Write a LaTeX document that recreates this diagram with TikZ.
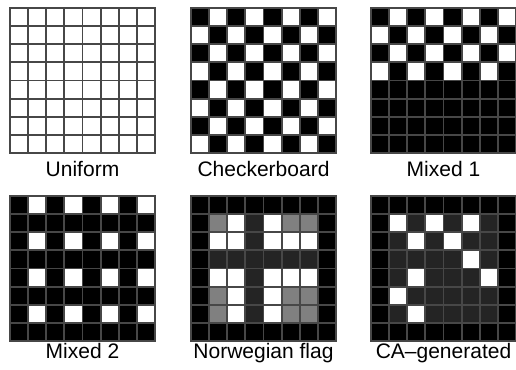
\documentclass[tikz,border=0pt]{standalone}
\usepackage{fontspec}
\setmainfont{Liberation Sans}

% one 8x8 panel: #1,#2 = top left corner, #3 = rows of cell codes
% 0 black, 1 white, 2 grey, 3 dark
\newcommand{\cellpanel}[3]{%
  \foreach \rowd [count=\rowi from 0] in {#3} {
    \foreach \cc [count=\colj from 0] in \rowd {
      \filldraw[cellbox, fill=cell\cc] (#1+\colj*18.125, #2+\rowi*18.125) rectangle ++(18.125, 18.125);
    }
  }
}

\begin{document}
\begin{tikzpicture}[x=1pt, y=-1pt,
    cellbox/.style={draw=gridc, line width=1.8pt},
    panellabel/.style={anchor=base, font=\fontsize{21}{25}\selectfont}]
  \definecolor{cell0}{gray}{0}
  \definecolor{cell1}{gray}{1}
  \definecolor{cell2}{gray}{0.5}
  \definecolor{cell3}{gray}{0.14}
  \definecolor{gridc}{gray}{0.28}
  \useasboundingbox (0,0) rectangle (516,369);

  % top row
  \cellpanel{10}{8}{{1,1,1,1,1,1,1,1},{1,1,1,1,1,1,1,1},{1,1,1,1,1,1,1,1},{1,1,1,1,1,1,1,1},
                    {1,1,1,1,1,1,1,1},{1,1,1,1,1,1,1,1},{1,1,1,1,1,1,1,1},{1,1,1,1,1,1,1,1}}
  \cellpanel{191}{8}{{0,1,0,1,0,1,0,1},{1,0,1,0,1,0,1,0},{0,1,0,1,0,1,0,1},{1,0,1,0,1,0,1,0},
                     {0,1,0,1,0,1,0,1},{1,0,1,0,1,0,1,0},{0,1,0,1,0,1,0,1},{1,0,1,0,1,0,1,0}}
  \cellpanel{371}{8}{{0,1,0,1,0,1,0,1},{1,0,1,0,1,0,1,0},{0,1,0,1,0,1,0,1},{1,0,1,0,1,0,1,0},
                     {0,0,0,0,0,0,0,0},{0,0,0,0,0,0,0,0},{0,0,0,0,0,0,0,0},{0,0,0,0,0,0,0,0}}

  % bottom row
  \cellpanel{10}{196}{{0,1,0,1,0,1,0,1},{0,0,0,0,0,0,0,0},{0,1,0,1,0,1,0,1},{0,0,0,0,0,0,0,0},
                      {0,1,0,1,0,1,0,1},{0,0,0,0,0,0,0,0},{0,1,0,1,0,1,0,1},{0,0,0,0,0,0,0,0}}
  \cellpanel{191}{196}{{0,0,0,0,0,0,0,0},{0,2,1,3,1,2,2,0},{0,1,1,3,1,1,1,0},{0,3,3,3,3,3,3,0},
                       {0,1,1,3,1,1,1,0},{0,2,1,3,1,2,2,0},{0,2,1,3,1,2,2,0},{0,0,0,0,0,0,0,0}}
  \cellpanel{371}{196}{{0,0,0,0,0,0,0,0},{0,1,3,1,3,1,3,0},{0,3,1,3,1,3,3,0},{0,3,3,3,3,1,3,0},
                       {0,3,1,3,3,3,1,0},{0,1,3,3,3,3,3,0},{0,3,1,3,3,3,3,0},{0,0,0,0,0,0,0,0}}

  \node[panellabel] (uniform) at (82.5,176) {Uniform};
  \node[panellabel] (checker) at (263.5,176) {Checkerboard};
  \node[panellabel] (mixedone) at (443.5,176) {Mixed 1};
  \node[panellabel] (mixedtwo) at (82.5,358) {Mixed 2};
  \node[panellabel] (flag) at (263.5,358) {Norwegian flag};
  \node[panellabel] (cagen) at (443.5,358) {CA--generated};
\end{tikzpicture}
\end{document}
